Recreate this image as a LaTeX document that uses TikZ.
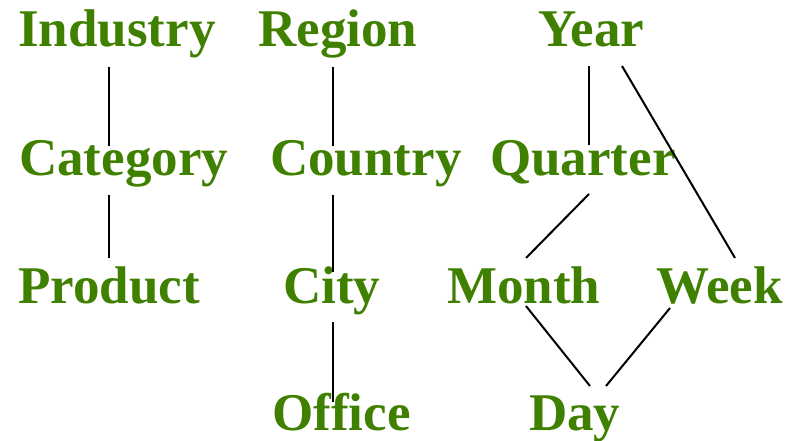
\documentclass[tikz,border=0pt]{standalone}
\usepackage{fontspec}
\setmainfont{Liberation Serif}
\definecolor{lbl}{HTML}{408000}
\begin{document}
\begin{tikzpicture}[x=1pt,y=1pt,
  lab/.style={anchor=base west,inner sep=0pt,text=lbl,font=\fontsize{53}{60}\selectfont\bfseries},
  conn/.style={draw=black,line width=2pt}]
\useasboundingbox (0,0) rectangle (797,440);
% labels (baseline positions)
\node[lab] (industry) at (18,393) {Industry};
\node[lab] (category) at (19,265) {Category};
\node[lab] (product)  at (18,137) {Product};
\node[lab] (region)   at (258,393) {Region};
\node[lab] (country)  at (270,265) {Country};
\node[lab] (city)     at (283,137) {City};
\node[lab] (office)   at (272,10) {Office};
\node[lab] (year)     at (538,393) {Year};
\node[lab] (quarter)  at (490,265) {Quarter};
\node[lab] (month)    at (447,137) {Month};
\node[lab] (week)     at (656,137) {Week};
\node[lab] (day)      at (529,10) {Day};
% connector end points
\coordinate (ind-s) at (109,373);
\coordinate (cat-n) at (109,294);
\coordinate (cat-s) at (109,245);
\coordinate (pro-n) at (109,182);
\coordinate (reg-s) at (333,373);
\coordinate (cou-n) at (333,294);
\coordinate (cou-s) at (333,245);
\coordinate (cit-n) at (333,168);
\coordinate (cit-s) at (333,118);
\coordinate (off-n) at (333,38);
\coordinate (yea-s) at (589,374);
\coordinate (yea-se) at (622,374);
\coordinate (qua-n) at (589,295);
\coordinate (qua-s) at (589,246);
\coordinate (mon-n) at (526,182);
\coordinate (mon-s) at (526,134);
\coordinate (wee-n) at (735,182);
\coordinate (wee-s) at (670,132);
\coordinate (day-nw) at (590,54);
\coordinate (day-ne) at (606,54);
% connectors
\draw[conn] (ind-s) -- (cat-n);
\draw[conn] (cat-s) -- (pro-n);
\draw[conn] (reg-s) -- (cou-n);
\draw[conn] (cou-s) -- (cit-n);
\draw[conn] (cit-s) -- (off-n);
\draw[conn] (yea-s) -- (qua-n);
\draw[conn] (yea-se) -- (wee-n);
\draw[conn] (qua-s) -- (mon-n);
\draw[conn] (mon-s) -- (day-nw);
\draw[conn] (wee-s) -- (day-ne);
\end{tikzpicture}
\end{document}
